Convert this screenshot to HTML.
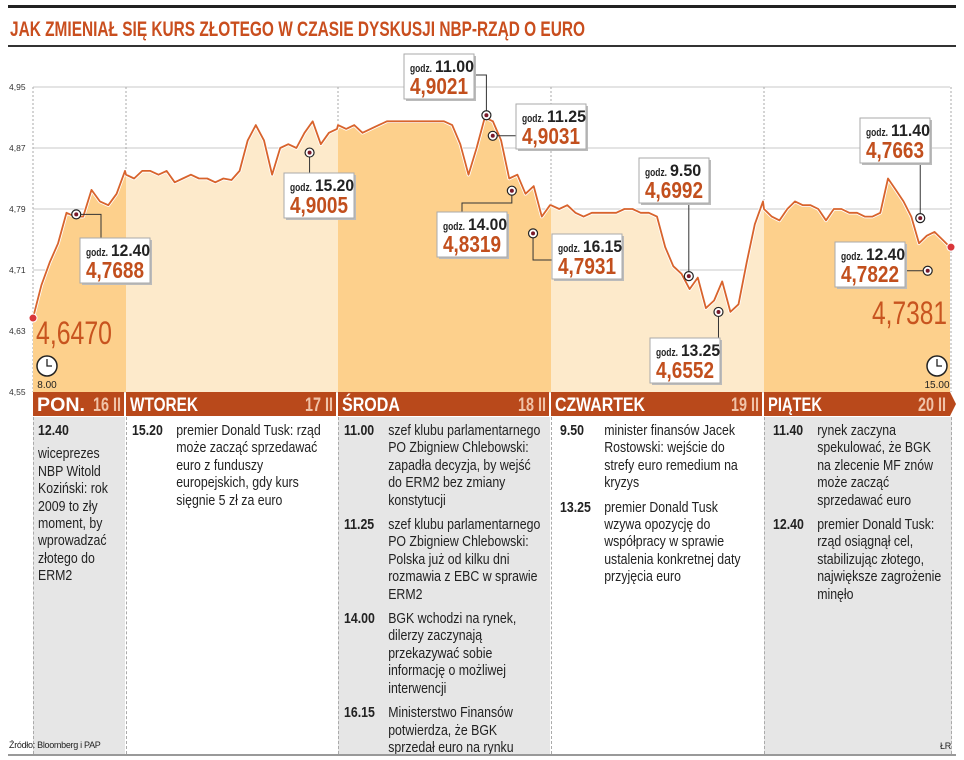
<!DOCTYPE html>
<html><head><meta charset="utf-8"><style>
body{margin:0;background:#fff;width:964px;height:760px;overflow:hidden;font-family:"Liberation Sans",sans-serif;}
svg text{font-family:"Liberation Sans",sans-serif;}
.col{position:absolute;top:417px;height:337px;box-sizing:border-box;color:#222;padding-top:6px;overflow:hidden}
.inner{transform:scaleX(0.85);transform-origin:0 0;font-size:14.5px;line-height:17.4px;}
.ev{display:flex;margin-bottom:7px}
.ev b{flex:0 0 auto;}
.note{position:absolute;font-size:9px;color:#222;letter-spacing:-0.3px}
</style></head><body>
<svg id="chart" width="964" height="760" style="position:absolute;left:0;top:0">
<rect x="8" y="5" width="948" height="3" fill="#222"/>
<text x="10" y="36" font-size="21" font-weight="bold" fill="#c94e1e" textLength="575" lengthAdjust="spacingAndGlyphs">JAK ZMIENIAŁ SIĘ KURS ZŁOTEGO W CZASIE DYSKUSJI NBP-RZĄD O EURO</text>
<rect x="8" y="45" width="948" height="2" fill="#333"/>
<g id="bg"></g><g id="grid"></g><g id="area"></g><g id="line"></g><g id="ann"></g><g id="hdr"></g>
</svg>
<div class="col" style="left:33px;width:92px;background:#e6e6e6;border-left:1px dashed #aaa;padding-left:4px"><div class="inner" style="width:100px">
<div style="font-weight:bold;margin-bottom:6px">12.40</div><div>wiceprezes NBP Witold Koziński: rok 2009 to zły moment, by wprowadzać złotego do ERM2</div></div></div>
<div class="col" style="left:126px;width:211px;border-left:1px dashed #aaa;padding-left:5px"><div class="inner" style="width:240px">
<div class="ev"><b style="width:52px">15.20</b><div>premier Donald Tusk: rząd może zacząć sprzedawać euro z funduszy europejskich, gdy kurs sięgnie 5 zł za euro</div></div></div></div>
<div class="col" style="left:338px;width:212px;background:#e6e6e6;border-left:1px dashed #aaa;padding-left:5px"><div class="inner" style="width:232px">
<div class="ev"><b style="width:52px">11.00</b><div>szef klubu parlamentarnego PO Zbigniew Chlebowski: zapadła decyzja, by wejść do ERM2 bez zmiany konstytucji</div></div>
<div class="ev"><b style="width:52px">11.25</b><div>szef klubu parlamentarnego PO Zbigniew Chlebowski: Polska już od kilku dni rozmawia z EBC w sprawie ERM2</div></div>
<div class="ev"><b style="width:52px">14.00</b><div>BGK wchodzi na rynek, dilerzy zaczynają przekazywać sobie informację o możliwej interwencji</div></div>
<div class="ev"><b style="width:52px">16.15</b><div>Ministerstwo Finansów potwierdza, że BGK sprzedał euro na rynku</div></div></div></div>
<div class="col" style="left:551px;width:212px;border-left:1px dashed #aaa;padding-left:8px"><div class="inner" style="width:226px">
<div class="ev"><b style="width:52px">9.50</b><div>minister finansów Jacek Rostowski: wejście do strefy euro  remedium na kryzys</div></div>
<div class="ev"><b style="width:52px">13.25</b><div>premier Donald Tusk wzywa opozycję do współpracy w sprawie ustalenia konkretnej daty przyjęcia euro</div></div></div></div>
<div class="col" style="left:764px;width:188px;background:#e6e6e6;border-left:1px dashed #aaa;border-right:1px dashed #aaa;padding-left:8px"><div class="inner" style="width:198px">
<div class="ev"><b style="width:52px">11.40</b><div>rynek zaczyna spekulować, że BGK na zlecenie MF znów może zacząć sprzedawać euro</div></div>
<div class="ev"><b style="width:52px">12.40</b><div>premier Donald Tusk: rząd osiągnął cel, stabilizując złotego, największe zagrożenie minęło</div></div></div></div>
<div style="position:absolute;left:8px;top:754px;width:948px;height:2px;background:#999"></div>
<div class="note" style="left:9px;top:740px">Źródło: Bloomberg i PAP</div>
<div class="note" style="left:940px;top:741px">ŁR</div>
<script>
const yTicks=[4.95,4.87,4.79,4.71,4.63,4.55];
const days=["PON.","WTOREK","ŚRODA","CZWARTEK","PIĄTEK"];
const dates=["16 II","17 II","18 II","19 II","20 II"];
const mon=[4.647,4.69,4.72,4.745,4.785,4.78,4.78,4.815,4.80,4.795,4.81,4.84];
const tue=[4.835,4.83,4.84,4.84,4.835,4.84,4.825,4.83,4.835,4.83,4.83,4.825,4.83,4.828,4.84,4.88,4.90,4.88,4.835,4.87,4.875,4.87,4.89,4.905,4.875,4.89,4.895];
const wed=[4.90,4.895,4.90,4.89,4.895,4.90,4.905,4.905,4.905,4.905,4.905,4.905,4.905,4.905,4.90,4.875,4.835,4.87,4.91,4.905,4.88,4.83,4.835,4.81,4.82,4.78,4.795];
const thu=[4.795,4.79,4.795,4.785,4.78,4.785,4.785,4.785,4.785,4.79,4.79,4.785,4.785,4.78,4.74,4.715,4.705,4.685,4.70,4.66,4.67,4.695,4.655,4.665,4.72,4.77,4.80];
const fri=[4.79,4.78,4.775,4.79,4.80,4.795,4.795,4.79,4.775,4.79,4.79,4.785,4.785,4.78,4.78,4.785,4.83,4.815,4.80,4.78,4.745,4.755,4.76,4.75,4.74];
const series=[mon,tue,wed,thu,fri];
const dayStart=[33,126,338,551,764], dayEnd=[125,337,550,763,950];
const annTimes=["11.00","12.40","15.20","11.25","14.00","9.50","16.15","13.25","11.40","12.40"];
const annValues=["4,9021","4,7688","4,9005","4,9031","4,8319","4,6992","4,7931","4,6552","4,7663","4,7822"];
const annDay=[2,0,1,2,2,3,2,3,4,4];
const annFrac=[0.7,0.47,0.87,0.73,0.82,0.65,0.92,0.79,0.84,0.88];
const annMarkY=[4.913,4.783,4.864,4.886,4.814,4.702,4.758,4.655,4.778,4.709];
const annBox=[[404,54],[80,238],[284,173],[516,104],[437,212],[639,158],[552,234],[650,338],[860,118],[835,242]];
const ns="http://www.w3.org/2000/svg";
const y=v=>87+(4.95-v)/0.08*61;
const x=(d,f)=>dayStart[d]+f*(dayEnd[d]-dayStart[d]);
function el(t,a,p){const e=document.createElementNS(ns,t);for(const k in a)e.setAttribute(k,a[k]);document.getElementById(p).appendChild(e);return e;}
const fills=["#fdd08c","#fdeacb","#fdd08c","#fdeacb","#fdd08c"];
yTicks.forEach(t=>{const l=el("line",{x1:33,x2:950,y1:y(t),y2:y(t),stroke:"#c8c8c8","stroke-width":1},"grid");


const tx=el("text",{x:9,y:y(t)+3,"font-size":8.5,fill:"#333"},"grid");tx.textContent=t.toFixed(2).replace(".",",");

});
dayStart.concat([951]).forEach(xx=>{const l=el("line",{x1:xx,x2:xx,y1:87,y2:392,stroke:"#aaa","stroke-dasharray":"2,2"},"grid");

});
const pts=[];
series.forEach((s,d)=>s.forEach((v,i)=>pts.push([x(d,i/(s.length-1||1)),y(v)])));
const lineD="M"+pts.map(p=>p[0].toFixed(1)+","+p[1].toFixed(1)).join("L");
series.forEach((s,d)=>{const cp=el("clipPath",{id:"c"+d},"area");const r=document.createElementNS(ns,"rect");
r.setAttribute("x",dayStart[d]);r.setAttribute("y",40);r.setAttribute("width",dayEnd[d]-dayStart[d]+1);r.setAttribute("height",360);cp.appendChild(r);
const a=el("path",{d:lineD+"L950,392L33,392Z",fill:fills[d],"clip-path":"url(#c"+d+")"},"area");

});
const halo=el("path",{d:lineD,fill:"none",stroke:"#fff","stroke-width":3.5,"stroke-linejoin":"round"},"line");


const ln=el("path",{d:lineD,fill:"none",stroke:"#d8632c","stroke-width":1.8,"stroke-linejoin":"round"},"line");


const s0=el("circle",{cx:33,cy:y(mon[0]),r:4,fill:"#d9363a",stroke:"#fff"},"line");


const s1=el("circle",{cx:951,cy:y(fri[fri.length-1]),r:4,fill:"#d9363a",stroke:"#fff"},"line");


annTimes.forEach((t,i)=>{const mx=x(annDay[i],annFrac[i]),my=y(annMarkY[i]);const [bx,by]=annBox[i];
let pth;
if(i==0)pth=`M${mx},${my}V75H474`;
else if(i==1)pth=`M${mx},${my}H101V238`;
else if(i==2)pth=`M${mx},${my}V173`;
else if(i==3)pth=`M${mx},${my}H516`;
else if(i==4)pth=`M${mx},${my}V203H462V212`;
else if(i==5)pth=`M${mx},${my}V203`;
else if(i==6)pth=`M${mx},${my}V260H552`;
else if(i==7)pth=`M${mx},${my}V338`;
else if(i==8)pth=`M${mx},${my}V163`;
else pth=`M${mx},${my}H905`;
const c=el("path",{d:pth,fill:"none",stroke:"#333","stroke-width":1},"ann");


const m=el("circle",{cx:mx,cy:my,r:4.5,fill:"#fff",stroke:"#222","stroke-width":1.2},"ann");


el("circle",{cx:mx,cy:my,r:2,fill:"#7a1a2a"},"ann");
el("rect",{x:bx+2,y:by+2,width:70,height:45,fill:"#bbb"},"ann");
const b=el("rect",{x:bx,y:by,width:70,height:45,fill:"#fff",stroke:"#aaa"},"ann");


const t0=el("text",{x:bx+6,y:by+18,fill:"#222","font-weight":"bold","font-size":11,textLength:22,lengthAdjust:"spacingAndGlyphs"},"ann");t0.textContent="godz.";


const t1=el("text",{x:bx+31,y:by+18,fill:"#222","font-weight":"bold","font-size":17,textLength:t.length*7.8,lengthAdjust:"spacingAndGlyphs"},"ann");t1.textContent=t;


const t2=el("text",{x:bx+6,y:by+40,fill:"#c24f1d","font-weight":"bold","font-size":23,textLength:58,lengthAdjust:"spacingAndGlyphs"},"ann");t2.textContent=annValues[i];

});
const o=el("text",{x:36,y:344,fill:"#c8541f","font-size":32,textLength:76,lengthAdjust:"spacingAndGlyphs"},"ann");o.textContent="4,6470";


const cl=el("text",{x:872,y:324,fill:"#c8541f","font-size":32,textLength:75,lengthAdjust:"spacingAndGlyphs"},"ann");cl.textContent="4,7381";


[[47,366,"8.00"],[937,366,"15.00"]].forEach(([cx,cy,lab])=>{const g=el("circle",{cx:cx,cy:cy,r:10,fill:"#fff",stroke:"#222","stroke-width":1.5},"ann");


el("path",{d:`M${cx},${cy-7}V${cy}H${cx+5}`,fill:"none",stroke:"#222","stroke-width":1.3},"ann");
const tl=el("text",{x:cx,y:cy+22,"font-size":10,"text-anchor":"middle",fill:"#222"},"ann");tl.textContent=lab;

});
const nameW=[48,68,58,90,54];
days.forEach((d,i)=>{const w=dayEnd[i]-dayStart[i]+(i==4?0:-1);
const r=el("path",{d:i==4?`M${dayStart[i]},392H950L956,404L950,416H${dayStart[i]}Z`:`M${dayStart[i]},392h${w}v24h-${w}Z`,fill:"#b9491b"},"hdr");


const t=el("text",{x:dayStart[i]+4,y:411,fill:"#fff","font-size":19,"font-weight":"bold",textLength:nameW[i],lengthAdjust:"spacingAndGlyphs"},"hdr");t.textContent=d;


const dt=el("text",{x:dayEnd[i]-32,y:411,fill:"#f0c3a8","font-size":19,"font-weight":"bold",textLength:28,lengthAdjust:"spacingAndGlyphs"},"hdr");dt.textContent=dates[i];

});
</script>
</body></html>
